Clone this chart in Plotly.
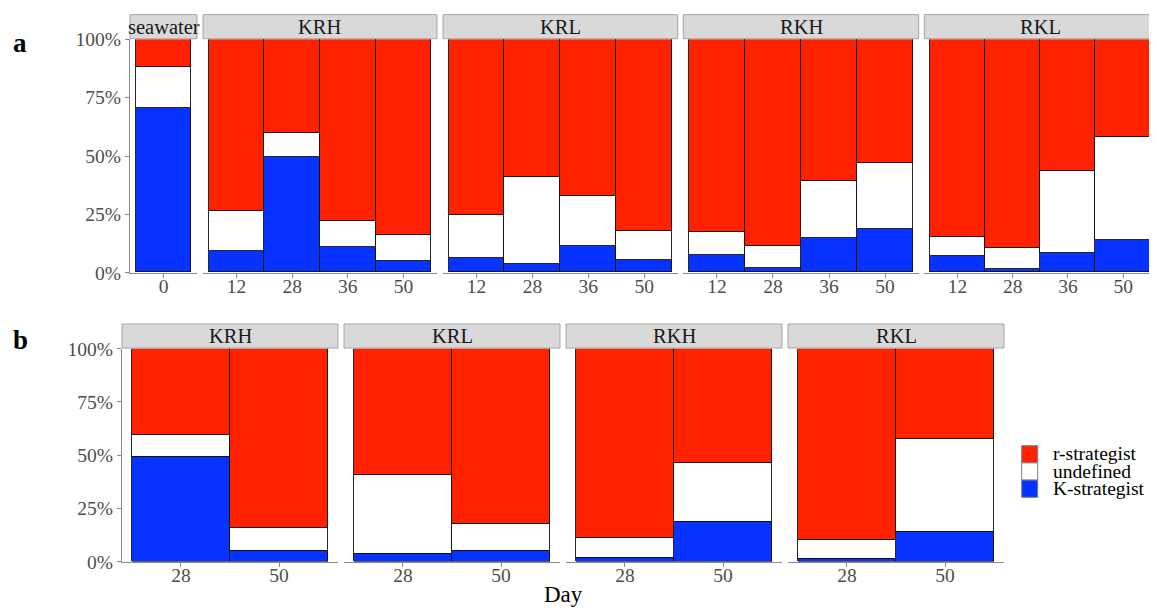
import plotly.graph_objects as go

# page body keeps an 8px default margin, so the figure is drawn 8px in
OX, OY = 8, 8
W, H = 1157 - OX, 610 - OY

# ---------------- data (percent) ----------------
seawater_days = ["0"]
seawater_K = [70.3]
seawater_U = [17.5]
seawater_r = [12.2]

treatments = ["KRH", "KRL", "RKH", "RKL"]
days = ["12", "28", "36", "50"]
K_strategist = {
    "KRH": [9.2, 49.3, 10.9, 5.0],
    "KRL": [6.2, 3.7, 11.3, 5.3],
    "RKH": [7.6, 1.9, 14.6, 18.6],
    "RKL": [7.2, 1.5, 8.3, 14.0],
}
undefined = {
    "KRH": [17.1, 10.4, 11.0, 11.0],
    "KRL": [18.6, 37.2, 21.3, 12.6],
    "RKH": [9.5, 9.5, 24.7, 28.1],
    "RKL": [8.0, 9.0, 35.0, 43.8],
}
r_strategist = {
    "KRH": [73.7, 40.3, 78.1, 84.0],
    "KRL": [75.2, 59.1, 67.4, 82.1],
    "RKH": [82.9, 88.6, 60.7, 53.3],
    "RKL": [84.8, 89.5, 56.7, 42.2],
}
days_b = ["28", "50"]
y_ticks = [0, 0.25, 0.5, 0.75, 1.0]
y_ticktext = ["0%", "25%", "50%", "75%", "100%"]

series = [  # drawn bottom -> top
    ("K-strategist", "#0633FF"),
    ("undefined", "#FFFFFF"),
    ("r-strategist", "#FF2200"),
]

# ---------------- layout geometry (screen pixels) ----------------
row_a_px = [(130, 197), (203, 437), (443, 677.7), (683.3, 918.7), (924.3, 1156.3)]
row_a_y = (39.3, 272.7)
row_b_px = [(122, 338), (344, 560), (566, 782), (788, 1004)]
row_b_y = (348.7, 561.7)
strip_h = 24.7

FONT = "Liberation Serif, Times New Roman, serif"

def px_x(v):
    return (v - OX) / W

def px_y(v):
    return 1 - (v - OY) / H

fig = go.Figure()

panels_a = [("seawater", seawater_days,
             {"K-strategist": seawater_K, "undefined": seawater_U, "r-strategist": seawater_r})]
for t in treatments:
    panels_a.append((t, days, {"K-strategist": K_strategist[t],
                               "undefined": undefined[t],
                               "r-strategist": r_strategist[t]}))
panels_b = []
for t in treatments:
    idx = [days.index(d) for d in days_b]
    panels_b.append((t, days_b, {"K-strategist": [K_strategist[t][i] for i in idx],
                                 "undefined": [undefined[t][i] for i in idx],
                                 "r-strategist": [r_strategist[t][i] for i in idx]}))

layout_axes = {}
shapes = []
annotations = []

axis_common = dict(
    showgrid=False, zeroline=False, showline=True, linecolor="#8A8A8A", linewidth=1.2,
    ticks="outside", ticklen=4, tickcolor="#8A8A8A", tickwidth=1.2,
    tickfont=dict(family=FONT, size=19.5, color="#4D4D4D"),
    automargin=False,
)

all_panels = []
ax_i = 0
for row, (panels, xpx, ypx, yname) in enumerate([(panels_a, row_a_px, row_a_y, "y"),
                                                   (panels_b, row_b_px, row_b_y, "y2")]):
    ydom = [px_y(ypx[1]), px_y(ypx[0])]
    first_x = None
    for j, (label, cats, vals) in enumerate(panels):
        ax_i += 1
        xname = "x" if ax_i == 1 else f"x{ax_i}"
        xkey = "xaxis" if ax_i == 1 else f"xaxis{ax_i}"
        if first_x is None:
            first_x = xname
        n = len(cats)
        layout_axes[xkey] = dict(
            axis_common,
            domain=[px_x(xpx[j][0]), min(1.0, px_x(xpx[j][1]))],
            anchor=yname, type="category", range=[-0.6, n - 0.4],
            categoryorder="array", categoryarray=cats,
            ticklabelstandoff=-8,
            fixedrange=True,
        )
        all_panels.append((xname, yname, cats, vals))
        x0, x1 = px_x(xpx[j][0]), min(1.0, px_x(xpx[j][1]))
        y0, y1 = px_y(ypx[0] - strip_h), px_y(ypx[0] - 0.6)
        shapes.append(dict(type="rect", xref="paper", yref="paper", x0=x0, x1=x1, y0=y0, y1=y1,
                           fillcolor="#D9D9D9", line=dict(color="#A6A6A6", width=1), layer="above"))
        annotations.append(dict(xref="paper", yref="paper", x=(x0 + x1) / 2, y=(y0 + y1) / 2,
                                text=label, showarrow=False, xanchor="center", yanchor="middle",
                                font=dict(family=FONT, size=20.5, color="#1A1A1A")))
    ykey = "yaxis" if yname == "y" else "yaxis2"
    layout_axes[ykey] = dict(
        axis_common, domain=ydom, anchor=first_x, range=[0, 1],
        tickvals=y_ticks, ticktext=y_ticktext, fixedrange=True,
    )

for s_name, color in series:
    for xname, yname, cats, vals in all_panels:
        fig.add_trace(go.Bar(
            x=cats, y=[v / 100 for v in vals[s_name]], name=s_name,
            xaxis=xname, yaxis=yname, width=1.0,
            marker=dict(color=color, line=dict(color="#111111", width=0.9)),
            showlegend=False, hoverinfo="skip",
        ))

# legend (compact, ggplot style): keys + labels, top to bottom r / undefined / K
leg_x0, leg_x1 = 1021.7, 1037.7
leg_top, key_h = 445.7, 17.2
for k, (s_name, color) in enumerate(reversed(series)):
    ky0 = leg_top + k * key_h
    ky1 = ky0 + key_h
    shapes.append(dict(type="rect", xref="paper", yref="paper",
                       x0=px_x(leg_x0), x1=px_x(leg_x1), y0=px_y(ky1), y1=px_y(ky0),
                       fillcolor=color, line=dict(color="#7F7F7F", width=1)))
    annotations.append(dict(xref="paper", yref="paper", x=px_x(1050.5), y=px_y((ky0 + ky1) / 2 - 0.5),
                            text=s_name, showarrow=False, xanchor="left", yanchor="middle",
                            font=dict(family=FONT, size=19.5, color="black")))

annotations.append(dict(xref="paper", yref="paper", x=px_x(20), y=px_y(43), text="<b>a</b>",
                        showarrow=False, xanchor="center", yanchor="middle",
                        font=dict(family=FONT, size=27, color="black")))
annotations.append(dict(xref="paper", yref="paper", x=px_x(20), y=px_y(340), text="<b>b</b>",
                        showarrow=False, xanchor="center", yanchor="middle",
                        font=dict(family=FONT, size=27, color="black")))
annotations.append(dict(xref="paper", yref="paper", x=px_x(563), y=px_y(594), text="Day",
                        showarrow=False, xanchor="center", yanchor="middle",
                        font=dict(family=FONT, size=23, color="black")))

fig.update_layout(
    width=W, height=H,
    margin=dict(l=0, r=0, t=0, b=0, autoexpand=False),
    font=dict(family=FONT),
    paper_bgcolor="white", plot_bgcolor="white",
    barmode="stack", bargap=0,
    showlegend=False,
    shapes=shapes, annotations=annotations,
    **layout_axes,
)

fig.write_html("out.html")
